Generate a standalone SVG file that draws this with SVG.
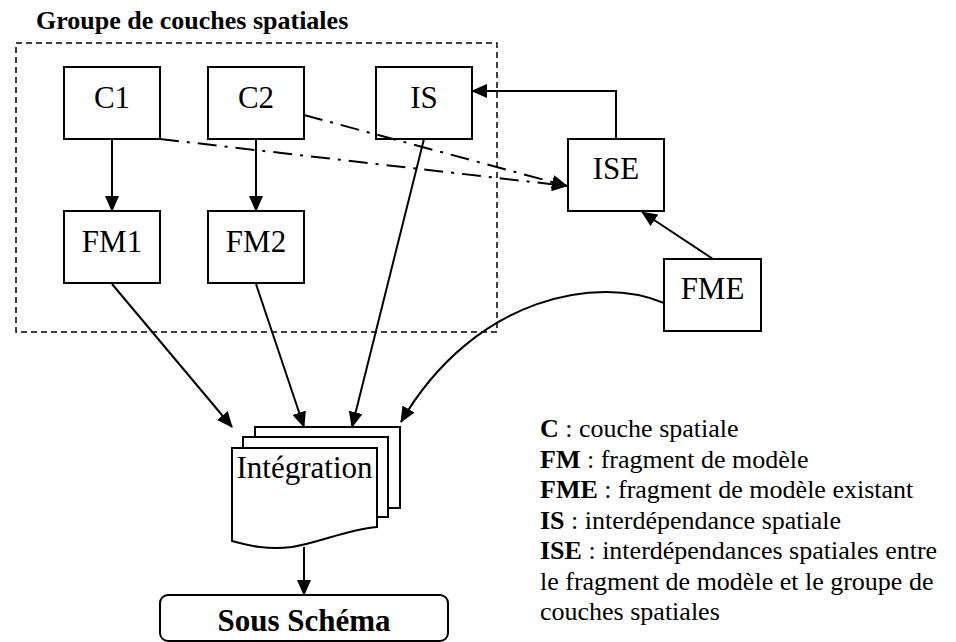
<svg xmlns="http://www.w3.org/2000/svg" width="956" height="642" viewBox="0 0 956 642">
<style>
text{font-family:"Liberation Serif","Times New Roman",serif;fill:#000}
.box{fill:#fff;stroke:#000;stroke-width:2}
.lbl{font-size:31px;text-anchor:middle}
.leg{font-size:26px}
.cn{fill:none;stroke:#000;stroke-width:2}
.dd{stroke-dasharray:19 8 3 8}
</style>
<defs>
<marker id="ah" markerUnits="userSpaceOnUse" markerWidth="16" markerHeight="14" viewBox="0 0 16 14" refX="15" refY="7" orient="auto">
<path d="M0,0 L16,7 L0,14 Z" fill="#000"/>
</marker>
</defs>
<rect width="956" height="642" fill="#fff"/>
<g id="group">
<rect x="16" y="43" width="481" height="289" fill="none" stroke="#000" stroke-width="1.5" stroke-dasharray="6 4"/>
<text x="36" y="29" font-size="26" font-weight="bold">Groupe de couches spatiales</text>
</g>
<g id="C1"><rect class="box" x="64" y="67" width="96" height="72"/><text class="lbl" x="112" y="108">C1</text></g>
<g id="C2"><rect class="box" x="208" y="67" width="96" height="72"/><text class="lbl" x="256" y="108">C2</text></g>
<g id="IS"><rect class="box" x="376" y="67" width="96" height="72"/><text class="lbl" x="424" y="108">IS</text></g>
<g id="FM1"><rect class="box" x="64" y="211" width="96" height="72"/><text class="lbl" x="112" y="252">FM1</text></g>
<g id="FM2"><rect class="box" x="208" y="211" width="96" height="72"/><text class="lbl" x="256" y="252">FM2</text></g>
<g id="ISE"><rect class="box" x="568" y="139" width="96" height="72"/><text class="lbl" x="616" y="179">ISE</text></g>
<g id="FME"><rect class="box" x="664" y="259" width="97" height="72"/><text class="lbl" x="712.5" y="299">FME</text></g>
<g id="Integration">
<rect class="box" x="255" y="427" width="145" height="81"/>
<rect class="box" x="243" y="437" width="145" height="80"/>
<path class="box" d="M232,448 H377 V527 C345,530 322,542 292,547 C268,550 250,546 232,541 Z"/>
<text x="304.5" y="478" font-size="31" text-anchor="middle">Intégration</text>
</g>
<g id="SousSchema">
<rect class="box" x="160" y="595" width="288" height="46" rx="8" ry="8"/>
<text x="304" y="631" font-size="31" font-weight="bold" text-anchor="middle">Sous Schéma</text>
</g>
<g id="connectors">
<line class="cn" x1="112" y1="139" x2="112" y2="211" marker-end="url(#ah)"/>
<line class="cn" x1="256" y1="139" x2="256" y2="211" marker-end="url(#ah)"/>
<line class="cn dd" x1="160" y1="139" x2="567" y2="186" marker-end="url(#ah)"/>
<line class="cn dd" x1="304" y1="115" x2="567" y2="186" marker-end="url(#ah)"/>
<path class="cn" d="M616,139 V91 H472" marker-end="url(#ah)"/>
<line class="cn" x1="713" y1="259" x2="642" y2="212" marker-end="url(#ah)"/>
<line class="cn" x1="112" y1="284" x2="232" y2="427" marker-end="url(#ah)"/>
<line class="cn" x1="256" y1="284" x2="304" y2="427" marker-end="url(#ah)"/>
<line class="cn" x1="424" y1="139" x2="352" y2="427" marker-end="url(#ah)"/>
<path class="cn" d="M664,303 C600,275 475,295 401,422" marker-end="url(#ah)"/>
<line class="cn" x1="304" y1="547" x2="304" y2="595" marker-end="url(#ah)"/>
</g>
<g id="legend" class="leg">
<text class="leg" x="540" y="437"><tspan font-weight="bold">C</tspan> : couche spatiale</text>
<text class="leg" x="540" y="467.5"><tspan font-weight="bold">FM</tspan> : fragment de modèle</text>
<text class="leg" x="540" y="498"><tspan font-weight="bold">FME</tspan> : fragment de modèle existant</text>
<text class="leg" x="540" y="528.5"><tspan font-weight="bold">IS</tspan> : interdépendance spatiale</text>
<text class="leg" x="540" y="559"><tspan font-weight="bold">ISE</tspan> : interdépendances spatiales entre</text>
<text class="leg" x="540" y="589.5">le fragment de modèle et le groupe de</text>
<text class="leg" x="540" y="620">couches spatiales</text>
</g>
</svg>
